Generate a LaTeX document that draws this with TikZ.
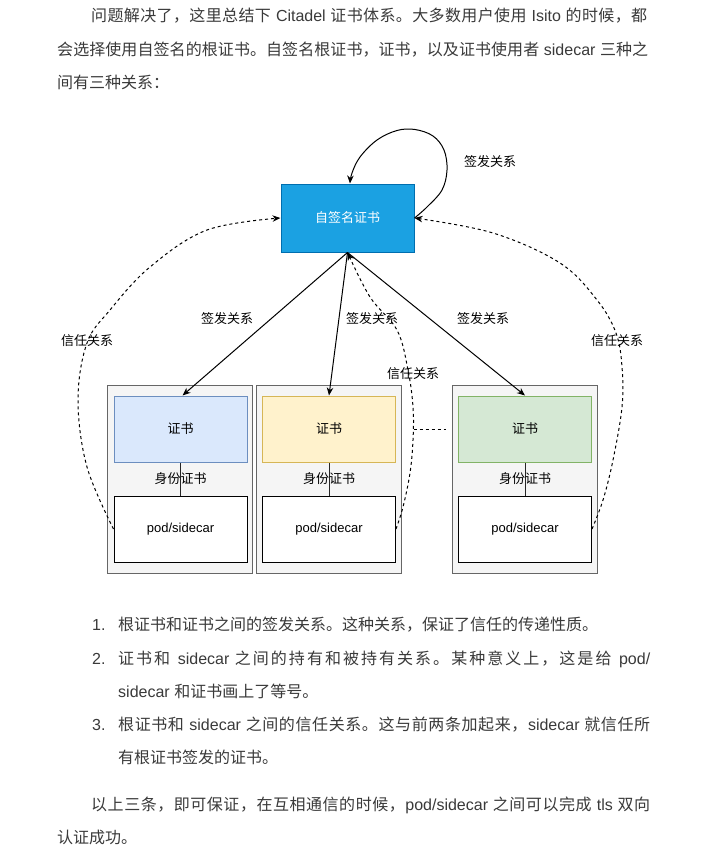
\documentclass[tikz,border=0pt]{standalone}
\usepackage{fontspec}
\setmainfont{Noto Sans CJK SC}
\newfontfamily\latf{Liberation Sans}
\usetikzlibrary{arrows.meta}
\newcommand{\lt}[1]{{\latf #1}}
\def\jspi#1{\ifx\relax#1\else#1\hskip0pt plus 1pt\relax\expandafter\jspi\fi}
\newcommand{\jsp}[1]{\jspi#1\relax}
\newcommand{\fs}{\hskip 4.5pt plus 0.5pt\relax}
\newcommand{\jl}[2]{\makebox[#1][s]{#2\unskip}}
\definecolor{bodytxt}{HTML}{3A3A3A}
\definecolor{rootfill}{HTML}{1BA1E2}
\definecolor{rootline}{HTML}{006EAF}
\definecolor{contfill}{HTML}{F5F5F5}
\definecolor{contline}{HTML}{666666}
\definecolor{bluefill}{HTML}{DAE8FC}
\definecolor{blueline}{HTML}{6C8EBF}
\definecolor{yelfill}{HTML}{FFF2CC}
\definecolor{yelline}{HTML}{D6B656}
\definecolor{grnfill}{HTML}{D5E8D4}
\definecolor{grnline}{HTML}{82B366}
\tikzset{
  body/.style={anchor=base west, inner sep=0pt, text=bodytxt, font=\fontsize{16}{16}\selectfont},
  dlabel/.style={inner sep=0pt, font=\fontsize{13}{13}\selectfont, text=black},
  rootbox/.style={draw=rootline, fill=rootfill, line width=1pt, inner sep=0pt, minimum width=133pt, minimum height=68pt, text=white, font=\fontsize{13}{13}\selectfont},
  contbox/.style={draw=contline, fill=contfill, line width=1pt, inner sep=0pt, minimum width=145pt, minimum height=188pt},
  certbox/.style={line width=1pt, inner sep=0pt, minimum width=133pt, minimum height=66pt, font=\fontsize{13}{13}\selectfont},
  podbox/.style={draw=black, fill=white, line width=1pt, inner sep=0pt, minimum width=133pt, minimum height=66pt, font=\fontsize{13}{13}\latf},
  arr/.style={line width=1pt, -{Stealth[length=8pt,width=6.5pt,inset=2.5pt]}},
  trust/.style={line width=1pt, dash pattern=on 3pt off 3pt, -{Stealth[length=8pt,width=6.5pt,inset=2.5pt]}},
  plain/.style={line width=1pt, draw=black!85},
}
\begin{document}
\begin{tikzpicture}[x=1pt,y=-1pt]
\useasboundingbox[fill=white] (0,0) rectangle (724,856);

% ---- top text ----
\node[body] (t1) at (91,22) {\jl{556pt}{\jsp{问题解决了，这里总结下}\fs\lt{Citadel}\fs\jsp{证书体系。大多数用户使用}\fs\lt{Isito}\fs\jsp{的时候，都}}};
\node[body] (t2) at (57,55.5) {\jl{591pt}{\jsp{会选择使用自签名的根证书。自签名根证书，证书，以及证书使用者}\fs\lt{sidecar}\fs\jsp{三种之}}};
\node[body] (t3) at (57,89) {间有三种关系：};

% ---- diagram ----
\node[rootbox] (root) at (347.5,218) {自签名证书};

\node[contbox] (c1) at (179.5,479) {};
\node[contbox] (c2) at (329,479) {};
\node[contbox] (c3) at (525,479) {};

\node[certbox, draw=blueline, fill=bluefill] (k1) at (180.5,429) {证书};
\node[certbox, draw=yelline, fill=yelfill] (k2) at (329,429) {证书};
\node[certbox, draw=grnline, fill=grnfill] (k3) at (525,429) {证书};

\node[podbox] (p1) at (180.5,529) {pod/sidecar};
\node[podbox] (p2) at (329,529) {pod/sidecar};
\node[podbox] (p3) at (525,529) {pod/sidecar};

\draw[plain] (k1.south) -- (p1.north);
\draw[plain] (k2.south) -- (p2.north);
\draw[plain] (k3.south) -- (p3.north);
\node[dlabel] (id1) at (180.5,479) {身份证书};
\node[dlabel] (id2) at (329,479) {身份证书};
\node[dlabel] (id3) at (525,479) {身份证书};

% issuing arrows
\draw[arr] (root.south) -- ([xshift=2pt]k1.north);
\draw[arr] (root.south) -- (k2.north);
\draw[arr] (root.south) -- (k3.north);

% self loop
\draw[arr] plot[smooth, tension=0.6] coordinates {(root.east) (427,207) (442,190) (447,170) (444,150) (433,136) (415,129.5) (397,130.5) (377,140) (360,157) (352,173) ([xshift=2.5pt]root.north)};

% trust curves
\draw[trust] plot[smooth, tension=0.6] coordinates {(p1.west) (87,467) (78,400) (87,343) (110,310) (150,267) (207,230) (root.west)};
\draw[trust] plot[smooth, tension=0.6] coordinates {(p3.east) (603,500) (613,460) (622,407) (622,367) (616,333) (597,300) (560,263) (493,233) (root.east)};
\draw[trust] plot[smooth, tension=0.6] coordinates {(p2.east) (403,507) (410,473) (413,440) (413,407) (408,370) (397,330) (370,297) (root.south)};

\coordinate (dA) at (413.5,429);
\coordinate (dB) at (446,429);
\draw[line width=1pt, dash pattern=on 3pt off 3pt] (dA) -- (dB);

% labels
\node[dlabel] (l0) at (490,162) {签发关系};
\node[dlabel] (l1) at (227,318.5) {签发关系};
\node[dlabel] (l2) at (372,319) {签发关系};
\node[dlabel] (l3) at (483,318.5) {签发关系};
\node[dlabel] (r1) at (87,341) {信任关系};
\node[dlabel] (r2) at (413,374) {信任关系};
\node[dlabel] (r3) at (617,341) {信任关系};

% ---- bottom text ----
\node[body] (n1) at (92,630) {\lt{1.}};
\node[body] (b1) at (118,630) {根证书和证书之间的签发关系。这种关系，保证了信任的传递性质。};
\node[body] (n2) at (92,664) {\lt{2.}};
\node[body] (b2) at (118,664) {\jl{532pt}{\jsp{证书和}\fs\lt{sidecar}\fs\jsp{之间的持有和被持有关系。某种意义上，这是给}\fs\lt{pod/}}};
\node[body] (b2b) at (118,697) {\lt{sidecar}\fs 和证书画上了等号。};
\node[body] (n3) at (92,730) {\lt{3.}};
\node[body] (b3) at (118,730) {\jl{532pt}{\jsp{根证书和}\fs\lt{sidecar}\fs\jsp{之间的信任关系。这与前两条加起来，}\lt{sidecar}\fs\jsp{就信任所}}};
\node[body] (b3b) at (118,763) {有根证书签发的证书。};
\node[body] (e1) at (91,810) {\jl{559pt}{\jsp{以上三条，即可保证，在互相通信的时候，}\lt{pod/sidecar}\fs\jsp{之间可以完成}\fs\lt{tls}\fs\jsp{双向}}};
\node[body] (e2) at (57,843) {认证成功。};
\end{tikzpicture}
\end{document}
